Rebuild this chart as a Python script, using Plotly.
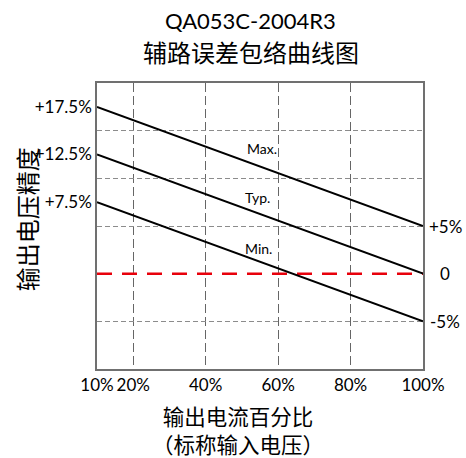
import plotly.graph_objects as go

# ---- data ----
current_pct = [10, 100]                 # output current, % of rated
max_err = [17.5, 5]                     # Max. envelope (%)
typ_err = [12.5, 0]                     # Typ. envelope (%)
min_err = [7.5, -5]                     # Min. envelope (%)
zero_ref = [0, 0]

x_tick_vals = [10, 20, 40, 60, 80, 100]
x_tick_text = ["10%", "20%", "40%", "60%", "80%", "100%"]
y_left_vals = [17.5, 12.5, 7.5]
y_left_text = ["+17.5%", "+12.5%", "+7.5%"]
y_right_vals = [5, 0, -5]
y_right_text = ["+5%", "0", "-5%"]
y_grid_vals = [15, 10, 5, -5]
x_grid_vals = [20, 40, 60, 80]

LAT = "Lato, 'Noto Sans CJK SC', sans-serif"
CJK = "'Noto Sans CJK SC', sans-serif"

fig = go.Figure()
fig.add_trace(go.Scatter(x=current_pct, y=zero_ref, mode="lines",
                         line=dict(color="#e8000b", width=2.5, dash="15px,10px"),
                         hoverinfo="skip", showlegend=False))
for ys in (max_err, typ_err, min_err):
    fig.add_trace(go.Scatter(x=current_pct, y=ys, mode="lines",
                             line=dict(color="black", width=2),
                             hoverinfo="skip", showlegend=False))

fig.update_layout(
    width=466, height=458,
    margin=dict(l=97, r=43, t=83, b=89),
    paper_bgcolor="white", plot_bgcolor="white",
    font=dict(family=LAT, color="black"),
    xaxis=dict(range=[10, 100], tickmode="array", tickvals=x_tick_vals, ticktext=x_tick_text,
               showgrid=False, zeroline=False, ticks="",
               showline=True, mirror=True, linecolor="#707070", linewidth=1.5,
               tickfont=dict(size=17, family=LAT),
               minor=dict(tickmode="array", tickvals=x_grid_vals, showgrid=True,
                          gridcolor="#666666", gridwidth=1, griddash="9px,4px", ticks="")),
    yaxis=dict(range=[-10, 20], tickmode="array", tickvals=y_left_vals, ticktext=y_left_text,
               showgrid=False, zeroline=False, ticks="", ticklabelstandoff=0,
               showline=True, mirror=True, linecolor="#707070", linewidth=1.5,
               tickfont=dict(size=17, family=LAT),
               minor=dict(tickmode="array", tickvals=y_grid_vals, showgrid=True,
                          gridcolor="#8c8c8c", gridwidth=1, griddash="5px,3px", ticks="")),
)

# right-side value labels
for v, t in zip(y_right_vals, y_right_text):
    fig.add_annotation(x=1, xref="paper", y=v, yref="y", text=t, showarrow=False,
                       xanchor="center", yanchor="middle", xshift=22,
                       font=dict(size=17, family=LAT))

# curve labels
for t, xv, yv in (("Max.", 60.2, 13.1), ("Typ.", 58.3, 8.0), ("Min.", 58.9, 2.65)):
    fig.add_annotation(x=xv, y=yv, text=t, showarrow=False, xanchor="right", yanchor="middle",
                       font=dict(size=14, family=LAT))

# titles
fig.add_annotation(x=0.472, xref="paper", y=1, yref="paper", yshift=63, text="QA053C-2004R3",
                   showarrow=False, xanchor="center", yanchor="middle",
                   font=dict(size=22, family=LAT))
fig.add_annotation(x=0.472, xref="paper", y=1, yref="paper", yshift=32, text="辅路误差包络曲线图",
                   showarrow=False, xanchor="center", yanchor="middle",
                   font=dict(size=24, family=CJK))
fig.add_annotation(x=0.433, xref="paper", y=0, yref="paper", yshift=-60,
                   text="输出电流百分比<br>（标称输入电压）",
                   showarrow=False, xanchor="center", yanchor="middle", align="center",
                   borderpad=0, font=dict(size=21.5, family=CJK))
fig.add_annotation(x=0, xref="paper", y=0.524, yref="paper", xshift=-71, text="输出电压精度",
                   textangle=-90, showarrow=False, xanchor="center", yanchor="middle",
                   font=dict(size=24, family=CJK))

fig.write_html("out.html", config={"displayModeBar": False},
               post_script="document.body.style.margin='0';document.body.style.overflow='hidden';")
